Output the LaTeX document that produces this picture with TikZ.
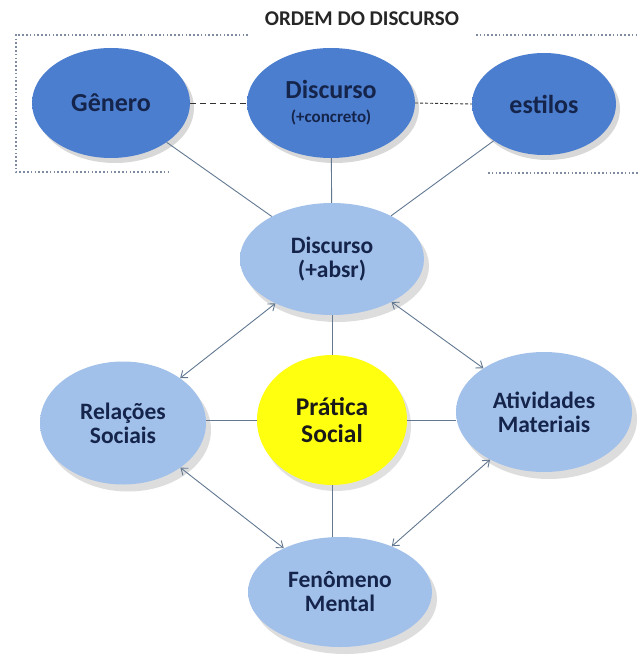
\documentclass[tikz,border=0pt]{standalone}
\usepackage{fontspec}
\setmainfont{Carlito}
\usetikzlibrary{shapes.geometric,arrows.meta,shadows}
\definecolor{topc}{HTML}{4C7ECF}
\definecolor{toprim}{HTML}{6E9CE2}
\definecolor{topedge}{HTML}{A8C6F0}
\definecolor{lowc}{HTML}{A2C1EA}
\definecolor{lowrim}{HTML}{BBD4F4}
\definecolor{lowedge}{HTML}{E2EEFC}
\definecolor{navy}{HTML}{15244A}
\definecolor{linec}{HTML}{627891}
\definecolor{dotc}{HTML}{7F8BA0}
\definecolor{yel}{HTML}{FFFF10}
\pgfdeclareradialshading{topshade}{\pgfpoint{0bp}{0bp}}{color(0bp)=(topc); color(38bp)=(topc); color(46bp)=(toprim); color(50bp)=(topedge)}
\pgfdeclareradialshading{lowshade}{\pgfpoint{0bp}{0bp}}{color(0bp)=(lowc); color(36bp)=(lowc); color(45bp)=(lowrim); color(50bp)=(lowedge)}
\tikzset{
  topell/.style={ellipse, inner sep=0pt, shading=topshade, text=navy,
    font=\bfseries\fontsize{26}{27}\selectfont, align=center,
    drop shadow={shadow xshift=4pt, shadow yshift=-5pt, opacity=.25, fill=black!60}},
  lowell/.style={ellipse, inner sep=0pt, shading=lowshade, text=navy,
    font=\bfseries\fontsize{23.5}{24}\selectfont, align=center,
    drop shadow={shadow xshift=5pt, shadow yshift=-7pt, opacity=.22, fill=black!60}},
  link/.style={draw=linec, line width=0.9pt},
  dlink/.style={draw=linec, line width=0.9pt,
    {Straight Barb[length=6pt,width=9pt]}-{Straight Barb[length=6pt,width=9pt]}},
  boxline/.style={draw=dotc, line width=1.6pt, dash pattern=on 1.6pt off 2.2pt}
}
\begin{document}
\begin{tikzpicture}[x=1pt,y=-1pt]
\useasboundingbox[fill=white] (0,0) rectangle (638,655);
% dotted frame
\draw[boxline] (248,35) -- (16,35) -- (16,172) -- (171,172);
\draw[boxline] (476,35) -- (638,35);
\draw[boxline] (488,173) -- (638,173);
\node[font=\bfseries\fontsize{21}{22}\selectfont, text=black!85] (title) at (362,19) {ORDEM DO DISCURSO};
% nodes
\node[topell, minimum width=158pt, minimum height=110pt] (gen) at (111,103) {Gênero};
\node[topell, minimum width=168pt, minimum height=110pt] (dc) at (331,103) {Discurso\\[-3pt]{\fontsize{17}{18}\selectfont(+concreto)}};
\node[topell, minimum width=144pt, minimum height=102pt] (est) at (544,104) {estilos};
\node[lowell, minimum width=184pt, minimum height=112pt] (dabs) at (332,259) {Discurso\\(+absr)};
\node[lowell, minimum width=166pt, minimum height=123pt] (rel) at (123,423) {Relações\\Sociais};
\node[lowell, minimum width=176pt, minimum height=120pt] (ativ) at (544,412) {Atividades\\Materiais};
\node[lowell, minimum width=184pt, minimum height=110pt] (fen) at (340,592) {Fenômeno\\Mental};
\node[ellipse, inner sep=0pt, fill=yel, text=black!90, minimum width=150pt, minimum height=130pt,
  font=\bfseries\fontsize{25.5}{27}\selectfont, align=center,
  drop shadow={shadow xshift=4pt, shadow yshift=-6pt, opacity=.2, fill=black!60}] (prat) at (332,420) {Prática\\Social};
% connectors
\draw[link, dashed, dash pattern=on 6pt off 4pt, draw=black!80] (gen.east) -- (dc.west);
\draw[link, dash pattern=on 3pt off 2pt, draw=black!80] (dc.east) -- (est.west);
\draw[link] (gen) -- (dabs);
\draw[link] (est) -- (dabs);
\draw[link] (dc) -- (dabs);
\draw[link] (dabs) -- (prat);
\draw[link] (prat.west) -- (prat.west -| rel.east);
\draw[link] (prat.east) -- (prat.east -| ativ.west);
\draw[link] (prat.south) -- (prat.south |- fen.north);
\draw[dlink] (dabs) -- (rel);
\draw[dlink] (dabs) -- (ativ);
\draw[dlink] (rel) -- (fen);
\draw[dlink] (ativ) -- (fen);
\end{tikzpicture}
\end{document}
